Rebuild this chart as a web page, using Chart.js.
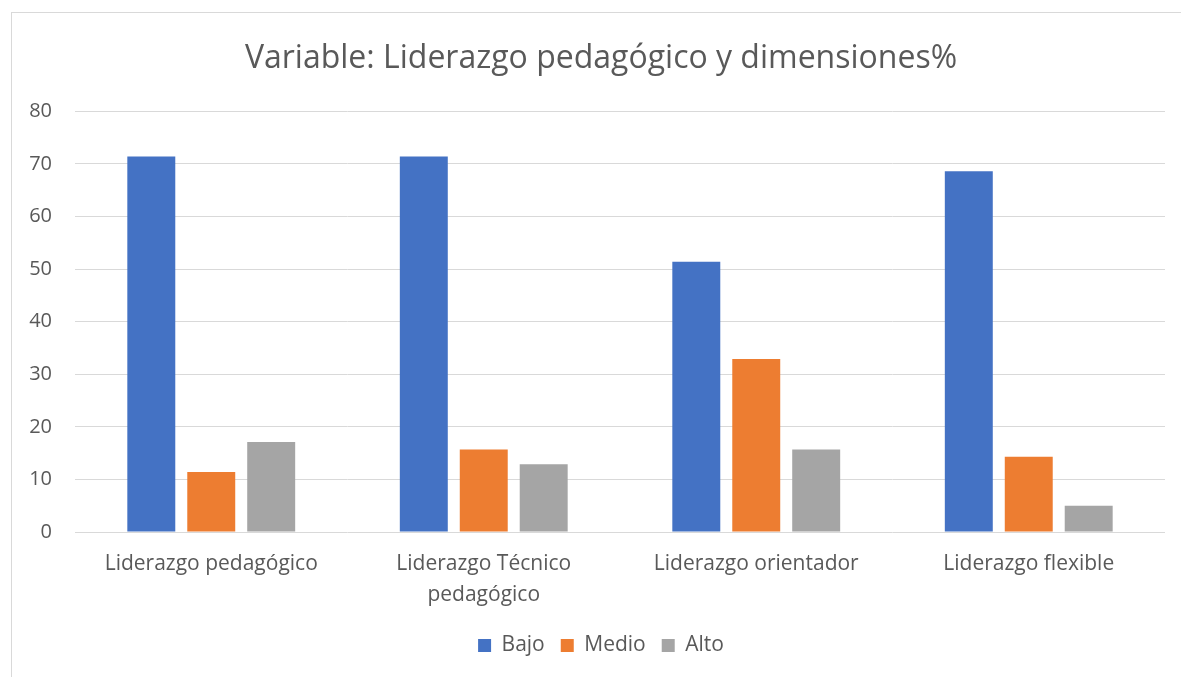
<!DOCTYPE html>
<html>
<head>
<meta charset="utf-8">
<script src="https://cdn.jsdelivr.net/npm/chart.js@4/dist/chart.umd.min.js"></script>
<style>
  html, body { margin: 0; padding: 0; background: #fff; }
  #wrap { position: relative; width: 1181px; height: 677px; overflow: hidden; }
  #frame { position: absolute; left: 11px; top: 12px; width: 1200px; height: 700px;
           border-left: 1px solid #d9d9d9; border-top: 1px solid #d9d9d9; pointer-events: none; }
</style>
</head>
<body>
<div id="wrap">
  <canvas id="myChart" width="1181" height="677"></canvas>
  <div id="frame"></div>
</div>
<script>
const categories = [
  'Liderazgo pedagógico',
  ['Liderazgo Técnico', 'pedagógico'],
  'Liderazgo orientador',
  'Liderazgo flexible'
]
const bajo = [71.4, 71.4, 51.4, 68.6]
const medio = [11.4, 15.7, 32.9, 14.3]
const alto = [17.1, 12.9, 15.7, 5.0]
const yTicks = [0, 10, 20, 30, 40, 50, 60, 70, 80]

const textColor = '#595959'
Chart.defaults.font.family = '"Open Sans", "Noto Sans", sans-serif'
Chart.defaults.color = textColor

// the chart frame runs past the right edge of the window, so title and legend
// are centred a bit right of the canvas centre
new Chart('myChart', {
  type: 'bar',
  data: {
    labels: categories,
    datasets: [
      { label: 'Bajo', data: bajo, backgroundColor: '#4472C4' },
      { label: 'Medio', data: medio, backgroundColor: '#ED7D31' },
      { label: 'Alto', data: alto, backgroundColor: '#A5A5A5' }
    ]
  },
  options: {
    responsive: false,
    animation: false,
    categoryPercentage: 0.66,
    barPercentage: 0.8,
    layout: { padding: { left: 11, right: -10, top: 12, bottom: 11 } },
    plugins: {
      title: {
        display: true,
        text: 'Variable: Liderazgo pedagógico y dimensiones%',
        color: textColor,
        font: { size: 32, weight: 'normal' },
        padding: { top: 28, bottom: 33 }
      },
      legend: {
        position: 'bottom',
        labels: {
          boxWidth: 13,
          boxHeight: 13,
          padding: 16,
          color: textColor,
          font: { size: 21 }
        }
      },
      tooltip: { enabled: false }
    },
    scales: {
      x: {
        grid: { display: false },
        border: { display: false },
        ticks: {
          color: textColor,
          font: { size: 21, lineHeight: 1.45 },
          padding: 9,
          maxRotation: 0,
          autoSkip: false
        },
        afterFit: (scale) => { scale.height = 87 }
      },
      y: {
        min: 0,
        max: 80,
        afterBuildTicks: (scale) => { scale.ticks = yTicks.map(v => ({ value: v })) },
        grid: { color: '#d9d9d9', lineWidth: 1, drawTicks: false },
        border: { display: false },
        ticks: {
          color: textColor,
          font: { size: 20 },
          padding: 23
        },
        afterFit: (scale) => { scale.width = 64 }
      },
      yRight: {
        position: 'right',
        grid: { display: false },
        border: { display: false },
        ticks: { display: false },
        afterFit: (scale) => { scale.width = 26 }
      }
    }
  }
})
</script>
</body>
</html>
